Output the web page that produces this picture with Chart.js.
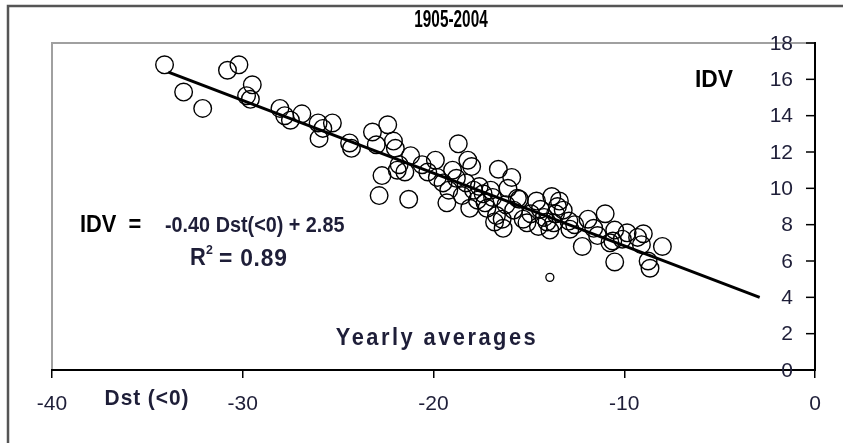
<!DOCTYPE html>
<html>
<head>
<meta charset="utf-8">
<script src="https://cdn.jsdelivr.net/npm/chart.js@4.4.1/dist/chart.umd.min.js"></script>
<style>
  html, body { margin: 0; padding: 0; background: #fff; }
  canvas { display: block; }
</style>
</head>
<body>
<canvas id="grafica" width="843" height="443"></canvas>
<script>
// Yearly averages 1905-2004: Dst(<0) vs IDV
const dst = [
  -34.1, -33.1, -32.1, -30.8, -30.2, -29.5, -29.8, -29.6, -28.05, -27.5,
  -26.9, -26.05, -25.3, -26.0, -24.4, -24.3, -23.2, -22.4, -22.1, -22.0,
  -21.2, -22.7, -21.9, -21.8, -22.85, -21.3, -19.9, -19.8, -18.7, -19.0,
  -18.2, -18.0, -19.2, -19.3, -18.1, -18.8, -17.6, -17.7, -16.6, -15.9,
  -16.1, -17.0, -17.3, -16.7, -16.35, -15.5, -15.1, -13.8, -13.4, -14.4,
  -13.2, -13.7, -13.9, -14.5, -12.85, -11.9, -11.0, -12.2, -10.5, -11.4,
  -10.6, -9.85, -9.0, -8.0, -8.75, -8.65, -10.5, -9.1, -10.75, -16.8,
  -14.05, -15.6, -17.9, -18.5, -17.4, -16.9, -16.2, -15.8, -14.9, -14.2,
  -13.6, -12.6, -11.6, -20.3, -19.5, -18.3, -17.2, -16.4, -15.3, -13.5,
  -12.9, -10.1, -9.3, -23.0, -25.8, -27.8, -21.5, -20.6, -14.6
];
const idv = [
  16.8, 15.3, 14.4, 16.5, 16.8, 15.7, 15.1, 14.9, 14.4, 13.75,
  14.1, 13.6, 13.6, 12.75, 12.5, 12.2, 13.1, 13.5, 12.6, 12.2,
  11.8, 10.7, 11.0, 11.3, 9.6, 9.4, 11.55, 10.6, 12.45, 11.0,
  11.55, 11.2, 9.9, 9.2, 8.9, 10.55, 10.1, 9.35, 11.05, 10.6,
  10.0, 9.9, 9.2, 8.5, 7.8, 9.4, 8.1, 9.55, 9.3, 8.85,
  8.8, 8.1, 7.7, 7.9, 7.75, 8.3, 8.6, 6.8, 5.95, 7.4,
  7.1, 7.55, 7.5, 6.8, 6.0, 5.6, 7.7, 6.9, 7.0, 8.15,
  8.15, 9.45, 9.9, 9.6, 9.7, 9.5, 9.1, 8.8, 8.6, 8.4,
  8.6, 8.0, 7.8, 10.9, 10.3, 10.3, 8.9, 8.3, 8.3, 9.0,
  8.2, 7.2, 7.3, 12.4, 13.3, 14.0, 10.9, 11.3, 9.3
];
// the single small marker under the cloud
const dstSmall = [-13.9];
const idvSmall = [5.1];
// fitted line IDV = -0.40 Dst(<0) + 2.85, ends as drawn
const lineDst = [-33.9, -2.9];
const lineIdv = [16.4, 4.0];

const xTicks = [-40, -30, -20, -10, 0];
const yTicks = [0, 2, 4, 6, 8, 10, 12, 14, 16, 18];

const FONT = 'Arial, "Liberation Sans", sans-serif';
const INK = '#1e1e38';

const toPts = (xs, ys) => xs.map((x, i) => ({ x: x, y: ys[i] }));

// frame, grey plot box, y axis ticks + labels (inside, left of the axis) and the texts
const decor = {
  id: 'decor',
  beforeDraw(chart) {
    const { ctx, chartArea: a } = chart;
    ctx.save();
    ctx.strokeStyle = '#555';
    ctx.lineWidth = 2.5;
    ctx.strokeRect(8, 6, 900, 500);
    ctx.strokeStyle = '#a0a0a0';
    ctx.lineWidth = 2;
    ctx.beginPath();
    ctx.moveTo(a.left, a.bottom);
    ctx.lineTo(a.left, a.top);
    ctx.lineTo(a.right, a.top);
    ctx.stroke();
    ctx.restore();
  },
  afterDraw(chart) {
    const { ctx } = chart;
    const y = chart.scales.y;
    ctx.save();
    ctx.strokeStyle = '#000';
    ctx.lineWidth = 1.5;
    ctx.font = '21px ' + FONT;
    ctx.fillStyle = INK;
    ctx.textAlign = 'right';
    ctx.textBaseline = 'middle';
    y.ticks.forEach(t => {
      const py = y.getPixelForValue(t.value);
      ctx.beginPath();
      ctx.moveTo(y.left - 9, py);
      ctx.lineTo(y.left, py);
      ctx.stroke();
      ctx.fillText(String(t.value), y.left - 22, py + 1);
    });

    // sx < 1 squeezes the glyphs, like the narrow face of the original
    const txt = (s, x, yy, size, align, color, sx, spacing) => {
      ctx.save();
      ctx.translate(x, yy);
      ctx.scale(sx, 1);
      ctx.font = 'bold ' + size + 'px ' + FONT;
      ctx.letterSpacing = (spacing || 0) + 'px';
      ctx.textAlign = align;
      ctx.textBaseline = 'middle';
      ctx.fillStyle = color;
      ctx.fillText(s, 0, 0);
      ctx.restore();
    };
    txt('1905-2004', 451, 20, 24, 'center', '#000', 0.64);
    txt('IDV', 714, 80, 24, 'center', '#000', 0.95);
    txt('IDV  =', 80, 226, 23, 'left', '#000', 0.95);
    txt('-0.40 Dst(<0) + 2.85', 165, 226, 22, 'left', INK, 0.9);
    // R^2 with a raised small 2
    txt('R', 190, 259, 23, 'left', INK, 0.95);
    txt('2', 206, 250, 13, 'left', INK, 0.95);
    txt('= 0.89', 219, 259, 24, 'left', INK, 0.95, 0.8);
    txt('Yearly averages', 437, 339, 23, 'center', INK, 0.95, 2.6);
    txt('Dst (<0)', 147, 399, 22, 'center', INK, 0.95, 1);
    ctx.restore();
  }
};

new Chart(document.getElementById('grafica'), {
  type: 'scatter',
  data: {
    datasets: [
      {
        label: 'fit',
        data: toPts(lineDst, lineIdv),
        showLine: true,
        borderColor: '#000',
        borderWidth: 3,
        pointRadius: 0,
        order: 0
      },
      {
        label: 'IDV',
        data: toPts(dst, idv),
        pointRadius: 8.8,
        pointBorderWidth: 1.4,
        borderColor: '#000',
        backgroundColor: 'rgba(0,0,0,0)',
        order: 1
      },
      {
        label: 'small',
        data: toPts(dstSmall, idvSmall),
        pointRadius: 4,
        pointBorderWidth: 1.3,
        borderColor: '#000',
        backgroundColor: 'rgba(0,0,0,0)',
        order: 1
      }
    ]
  },
  options: {
    responsive: false,
    animation: false,
    layout: { padding: { left: 52, top: 43, right: 0, bottom: 0 } },
    plugins: { legend: { display: false }, tooltip: { enabled: false }, title: { display: false } },
    scales: {
      x: {
        type: 'linear',
        position: 'bottom',
        min: -40,
        max: 0,
        afterBuildTicks: s => { s.ticks = xTicks.map(v => ({ value: v })); },
        afterFit: s => { s.height = 73; },
        ticks: { font: { family: FONT, size: 21 }, color: INK, padding: 14, maxRotation: 0, autoSkip: false },
        grid: { drawOnChartArea: false, drawTicks: true, tickLength: 8, color: '#000', lineWidth: 1.5 },
        border: { color: '#000', width: 2 }
      },
      y: {
        type: 'linear',
        position: 'right',
        min: 0,
        max: 18,
        afterBuildTicks: s => { s.ticks = yTicks.map(v => ({ value: v })); },
        afterFit: s => { s.width = 28; },
        ticks: { display: false },
        grid: { drawOnChartArea: false, drawTicks: false },
        border: { color: '#000', width: 2 }
      }
    }
  },
  plugins: [decor]
});
</script>
</body>
</html>
